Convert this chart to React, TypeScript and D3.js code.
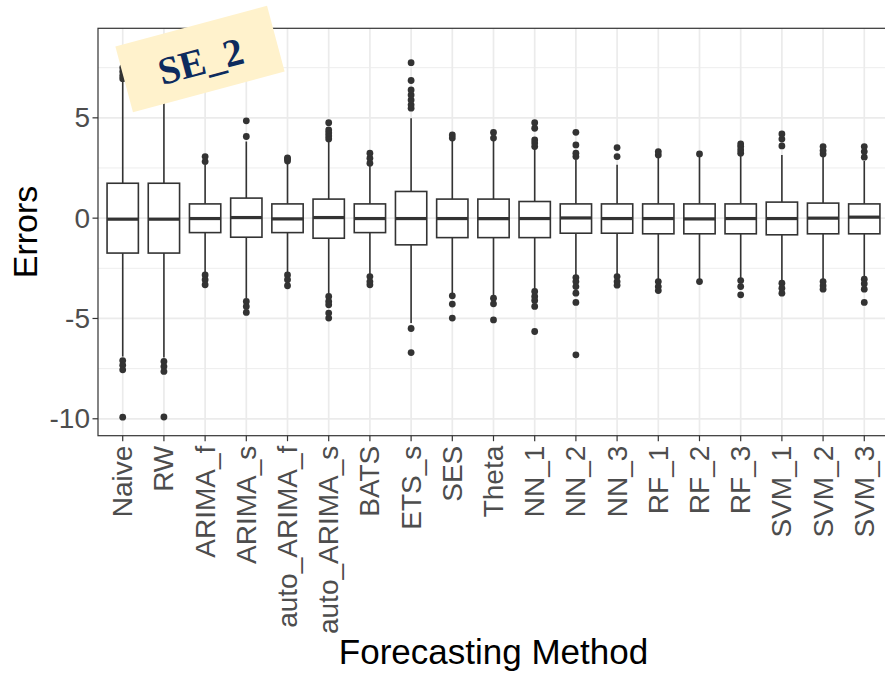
import React from "react";
import * as d3 from "d3";

// forecasting methods on the x axis
const methods = [
  "Naive", "RW", "ARIMA_f", "ARIMA_s", "auto_ARIMA_f", "auto_ARIMA_s", "BATS",
  "ETS_s", "SES", "Theta", "NN_1", "NN_2", "NN_3", "RF_1", "RF_2", "RF_3",
  "SVM_1", "SVM_2", "SVM_3",
];

// box statistics
const q1s = [-1.74, -1.74, -0.72, -0.95, -0.72, -1.0, -0.72, -1.33, -0.97, -0.97, -0.97, -0.75, -0.75, -0.78, -0.78, -0.78, -0.83, -0.78, -0.78];
const medians = [-0.05, -0.05, -0.02, 0.03, -0.04, 0.03, -0.02, -0.02, -0.02, -0.02, -0.02, 0.01, -0.02, -0.02, -0.04, -0.02, -0.02, 0.0, 0.05];
const q3s = [1.74, 1.74, 0.71, 1.0, 0.71, 0.95, 0.71, 1.33, 0.95, 0.95, 0.83, 0.71, 0.71, 0.71, 0.71, 0.71, 0.8, 0.75, 0.71];
const whiskerLows = [-6.9, -6.95, -2.74, -3.99, -2.72, -3.82, -2.8, -5.23, -3.74, -3.9, -3.57, -2.91, -2.78, -3.05, -3.05, -3.0, -3.1, -3.05, -2.95];
const whiskerHighs = [6.8, 6.95, 2.66, 3.82, 2.72, 3.85, 2.62, 4.98, 3.9, 3.9, 3.49, 2.9, 2.66, 3.05, 3.1, 3.15, 3.15, 3.1, 2.85];
const outliers = [
  [6.95, 7.1, 7.3, 7.5, -7.1, -7.33, -7.56, -9.92],
  [7.2, 7.45, 8.54, -7.14, -7.39, -7.64, -9.91],
  [2.82, 3.07, -2.83, -3.07, -3.32],
  [4.07, 4.85, -4.15, -4.4, -4.7],
  [2.85, 2.95, 3.0, -2.83, -3.07, -3.37],
  [3.95, 4.1, 4.25, 4.4, 4.76, -3.9, -4.15, -4.32, -4.73, -4.98],
  [2.74, 2.99, 3.24, -2.91, -3.16, -3.32],
  [5.48, 5.65, 5.89, 6.14, 6.39, 6.86, 7.75, -5.5, -6.7],
  [3.99, 4.15, -3.87, -4.28, -4.98],
  [3.99, 4.27, -3.99, -4.27, -5.07],
  [3.57, 3.74, 3.9, 4.48, 4.76, -3.65, -3.9, -4.1, -4.4, -5.65],
  [3.07, 3.24, 3.65, 4.28, -2.96, -3.16, -3.41, -3.74, -4.2, -6.81],
  [3.07, 3.52, -2.91, -3.16, -3.34],
  [3.15, 3.32, -3.16, -3.41, -3.61],
  [3.2, -3.16],
  [3.24, 3.4, 3.57, 3.7, -3.11, -3.41, -3.82],
  [3.6, 3.94, 4.2, -3.24, -3.49, -3.74],
  [3.2, 3.37, 3.57, -3.16, -3.37, -3.54],
  [3.04, 3.32, 3.57, -3.04, -3.27, -3.54, -4.2],
];
const yTicks = [-10, -5, 0, 5];
const yMinorTicks = [-7.5, -2.5, 2.5, 7.5];
const tag = "SE_2";

const W = 885;
const H = 673;
const panel = { left: 98, right: 889, top: 28.3, bottom: 435.7 };
const ink = "#333333";
const font = "'Liberation Sans', Arial, sans-serif";

export default function App() {
  const allVals = outliers.flat().concat(whiskerLows, whiskerHighs);
  const [lo, hi] = d3.extent(allVals) as [number, number];
  const pad = (hi - lo) * 0.05;

  const x = d3.scalePoint<string>().domain(methods).range([panel.left, panel.right]).padding(0.6);
  const y = d3.scaleLinear().domain([lo - pad, hi + pad]).range([panel.bottom, panel.top]);
  const boxW = x.step() * 0.76;

  return (
    <svg
      width={W}
      height={H}
      style={{ position: "absolute", left: 0, top: 0, background: "#fff" }}
    >
      <rect x={0} y={0} width={W} height={H} fill="#fff" />
      {/* grid */}
      <g>
        {yMinorTicks.map((t) => (
          <line key={"mn" + t} x1={panel.left} x2={panel.right} y1={y(t)} y2={y(t)} stroke="#ebebeb" strokeWidth={0.9} />
        ))}
        {yTicks.map((t) => (
          <line key={"mj" + t} x1={panel.left} x2={panel.right} y1={y(t)} y2={y(t)} stroke="#ebebeb" strokeWidth={1.7} />
        ))}
        {methods.map((m) => (
          <line key={"vx" + m} x1={x(m)} x2={x(m)} y1={panel.top} y2={panel.bottom} stroke="#ebebeb" strokeWidth={1.7} />
        ))}
      </g>

      {/* boxes */}
      {methods.map((m, i) => {
        const cx = x(m)!;
        return (
          <g key={m}>
            <line x1={cx} x2={cx} y1={y(q3s[i])} y2={y(whiskerHighs[i])} stroke={ink} strokeWidth={1.6} />
            <line x1={cx} x2={cx} y1={y(q1s[i])} y2={y(whiskerLows[i])} stroke={ink} strokeWidth={1.6} />
            <rect
              x={cx - boxW / 2}
              y={y(q3s[i])}
              width={boxW}
              height={y(q1s[i]) - y(q3s[i])}
              fill="#fff"
              stroke={ink}
              strokeWidth={1.6}
            />
            <line x1={cx - boxW / 2} x2={cx + boxW / 2} y1={y(medians[i])} y2={y(medians[i])} stroke={ink} strokeWidth={3.2} />
            {outliers[i].map((v, j) => (
              <circle key={j} cx={cx} cy={y(v)} r={3.4} fill={ink} />
            ))}
          </g>
        );
      })}

      {/* panel border */}
      <rect
        x={panel.left}
        y={panel.top}
        width={panel.right - panel.left}
        height={panel.bottom - panel.top}
        fill="none"
        stroke={ink}
        strokeWidth={1.2}
      />

      {/* y axis */}
      {yTicks.map((t) => (
        <g key={"yt" + t}>
          <line x1={panel.left - 5.5} x2={panel.left} y1={y(t)} y2={y(t)} stroke={ink} strokeWidth={1.2} />
          <text
            x={panel.left - 8}
            y={y(t)}
            textAnchor="end"
            dominantBaseline="central"
            fontFamily={font}
            fontSize={28}
            fill="#4d4d4d"
          >
            {t}
          </text>
        </g>
      ))}

      {/* x axis */}
      {methods.map((m) => (
        <g key={"xt" + m}>
          <line x1={x(m)} x2={x(m)} y1={panel.bottom} y2={panel.bottom + 5.5} stroke={ink} strokeWidth={1.2} />
          <text
            transform={`translate(${x(m)},${panel.bottom + 10}) rotate(-90)`}
            textAnchor="end"
            dominantBaseline="central"
            fontFamily={font}
            fontSize={28}
            fill="#4d4d4d"
          >
            {m}
          </text>
        </g>
      ))}

      {/* axis titles */}
      <text
        x={(panel.left + panel.right) / 2}
        y={664}
        textAnchor="middle"
        fontFamily={font}
        fontSize={35}
        fill="#000"
      >
        Forecasting Method
      </text>
      <text
        transform={`translate(37,${(panel.top + panel.bottom) / 2}) rotate(-90)`}
        textAnchor="middle"
        fontFamily={font}
        fontSize={34}
        fill="#000"
      >
        Errors
      </text>

      {/* tag */}
      <g transform="translate(200,59) rotate(-15)">
        <rect x={-78.5} y={-34} width={157} height={68} fill="#fff2cc" />
        <text
          x={0}
          y={2}
          textAnchor="middle"
          dominantBaseline="central"
          fontFamily="'Liberation Serif', 'DejaVu Serif', serif"
          fontWeight="bold"
          fontSize={39}
          fill="#0d2b5e"
        >
          {tag}
        </text>
      </g>
    </svg>
  );
}
